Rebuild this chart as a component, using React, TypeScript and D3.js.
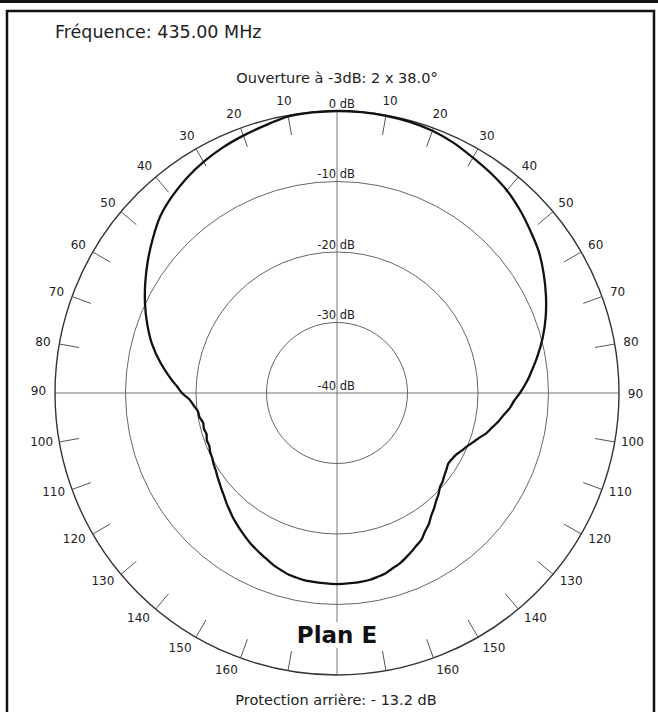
import React from "react";
import * as d3 from "d3";

// Pattern data: angle (deg, clockwise from top) and relative gain (dB)
const angles: number[] = [
  0, 5, 10, 15, 20, 25, 30, 35, 40, 45, 50, 55, 60, 65, 70, 75, 80,
  85, 87.5, 90, 92.5, 95, 97.5, 100, 102.5, 105, 107.5, 110, 112.5, 115, 117.5, 120, 122.5, 125, 127.5,
  130, 132.5, 135, 137.5, 140, 142.5, 145, 147.5, 150, 152.5, 155, 157.5, 160, 162.5, 165, 167.5,
  170, 172.5, 175, 177.5, 180,
  182.5, 185, 187.5, 190, 192.5, 195, 197.5, 200, 202.5, 205, 207.5, 210, 212.5, 215, 217.5,
  220, 222.5, 225, 227.5, 230, 232.5, 235, 237.5, 240, 242.5, 245, 247.5, 250, 252.5, 255, 257.5,
  260, 262.5, 265, 267.5, 270, 272.5, 275,
  280, 285, 290, 295, 300, 305, 310, 315, 320, 325, 330, 335, 340, 345, 350, 355,
];
const gainDb: number[] = [
  0, -0.02, -0.07, -0.18, -0.42, -0.85, -1.45, -1.95, -2.5, -3.3, -4.2, -5.05, -6.15, -7.3, -8.5, -9.8, -11.2,
  -12.6, -13.3, -14.05, -14.85, -15.4, -16.15, -16.75, -17.45, -18.05, -18.85, -19.5, -20.1, -20.55, -21.0, -21.2, -21.3, -21.05, -20.8,
  -20.45, -20.2, -19.65, -19.2, -18.6, -18.05, -17.3, -16.75, -16.0, -15.6, -15.1, -14.65, -14.2, -13.9, -13.5, -13.3,
  -13.1, -13.0, -12.95, -12.93, -12.9,
  -12.93, -12.95, -13.0, -13.05, -13.2, -13.35, -13.65, -13.95, -14.35, -14.7, -15.05, -15.4, -15.8, -16.2, -16.6,
  -17.0, -17.45, -17.85, -18.3, -18.65, -19.0, -19.3, -19.6, -19.8, -20.05, -20.15, -20.4, -20.35, -20.6, -20.45, -20.55,
  -20.2, -20.1, -19.6, -19.05, -18.0, -17.25, -16.3,
  -14.5, -12.8, -11.35, -9.95, -8.6, -7.25, -5.9, -4.55, -3.6, -2.8, -2.15, -1.6, -1.15, -0.7, -0.17, -0.05,
];

const ringLevels: number[] = [-40, -30, -20, -10, 0];
const angleTicks: number[] = [10, 20, 30, 40, 50, 60, 70, 80, 100, 110, 120, 130, 140, 150, 160, 170];
const angleLabels: number[] = [10, 20, 30, 40, 50, 60, 70, 80, 90, 100, 110, 120, 130, 140, 150, 160];

const titleText = "Fréquence: 435.00 MHz";
const apertureText = "Ouverture à -3dB: 2 x 38.0°";
const planText = "Plan E";
const backText = "Protection arrière: - 13.2 dB";

const W = 658;
const H = 712;
const cx = 337;
const cy = 393;
const R = 282;
const FONT = "'DejaVu Sans', Verdana, sans-serif";

export default function App() {
  const r = d3.scaleLinear().domain([-40, 0]).range([0, R]);
  const toRad = (deg: number) => (deg * Math.PI) / 180;
  const pts: [number, number][] = angles.map((a, i) => [toRad(a), r(gainDb[i])]);
  const line = d3
    .lineRadial<[number, number]>()
    .angle((d) => d[0])
    .radius((d) => d[1])
    .curve(d3.curveCardinalClosed.tension(0.2));
  const pathD = line(pts) || "";

  const polar = (deg: number, rad: number) => [
    cx + rad * Math.sin(toRad(deg)),
    cy - rad * Math.cos(toRad(deg)),
  ];

  const tickAngles = angleTicks.flatMap((a) => [a, 360 - a]);
  const labelItems = angleLabels.flatMap((a) =>
    a === 90 ? [{ a: 90, t: a }, { a: 270, t: a }] : [{ a, t: a }, { a: 360 - a, t: a }]
  );

  return (
    <svg
      width={W}
      height={H}
      style={{ position: "absolute", left: 0, top: 0, background: "#fff" }}
      fontFamily={FONT}
    >
      <rect x={0} y={0} width={W} height={H} fill="#fff" />
      {/* frame */}
      <line x1={0} y1={1.5} x2={W} y2={1.5} stroke="#111" strokeWidth={3} />
      <rect x={7} y={11} width={647} height={H + 10} fill="none" stroke="#111" strokeWidth={2.5} />

      <text x={55} y={32} fontSize={17.5} dominantBaseline="central" fill="#222">
        {titleText}
      </text>
      <text x={337} y={78} fontSize={14.5} textAnchor="middle" dominantBaseline="central" fill="#222">
        {apertureText}
      </text>

      {/* axes */}
      <line x1={cx - R} y1={cy} x2={cx + R} y2={cy} stroke="#777" strokeWidth={1} />
      <line x1={cx} y1={cy - R} x2={cx} y2={cy + R} stroke="#777" strokeWidth={1} />

      {/* rings */}
      {ringLevels
        .filter((v) => v > -40)
        .map((v) => (
          <circle
            key={v}
            cx={cx}
            cy={cy}
            r={r(v)}
            fill="none"
            stroke={v === 0 ? "#333" : "#666"}
            strokeWidth={v === 0 ? 1.4 : 1}
          />
        ))}

      {/* ticks */}
      {tickAngles.map((a) => {
        const [x1, y1] = polar(a, R);
        const [x2, y2] = polar(a, R - 20);
        return <line key={a} x1={x1} y1={y1} x2={x2} y2={y2} stroke="#555" strokeWidth={1} />;
      })}

      {/* angle labels */}
      {labelItems.map((d) => {
        const [px, py] = polar(d.a, 297);
        const c = Math.cos(toRad(d.a));
        const side = Math.sin(toRad(d.a)) >= 0 ? 1 : -1;
        const x = px + side * (1.5 + 8 * Math.max(0, -c));
        const y = py + (c < 0 ? -2.5 : 0.5);
        return (
          <text
            key={d.a}
            x={x}
            y={y}
            fontSize={12}
            textAnchor="middle"
            dominantBaseline="central"
            fill="#222"
          >
            {d.t}
          </text>
        );
      })}

      {/* ring labels */}
      {ringLevels.map((v) => (
        <text
          key={v}
          x={cx + 18}
          y={cy - r(v) - 7.5}
          fontSize={11.5}
          textAnchor="end"
          dominantBaseline="central"
          fill="#222"
        >
          {`${v} dB`}
        </text>
      ))}

      {/* pattern */}
      <path
        d={pathD}
        transform={`translate(${cx},${cy})`}
        fill="none"
        stroke="#111"
        strokeWidth={2.3}
        strokeLinejoin="round"
      />

      {/* plan label */}
      <rect x={cx - 42} y={622} width={84} height={26} fill="#fff" />
      <text x={cx} y={643} fontSize={23} fontWeight="bold" textAnchor="middle" fill="#111">
        {planText}
      </text>
      <text x={336} y={705} fontSize={14.5} textAnchor="middle" fill="#222">
        {backText}
      </text>
    </svg>
  );
}
